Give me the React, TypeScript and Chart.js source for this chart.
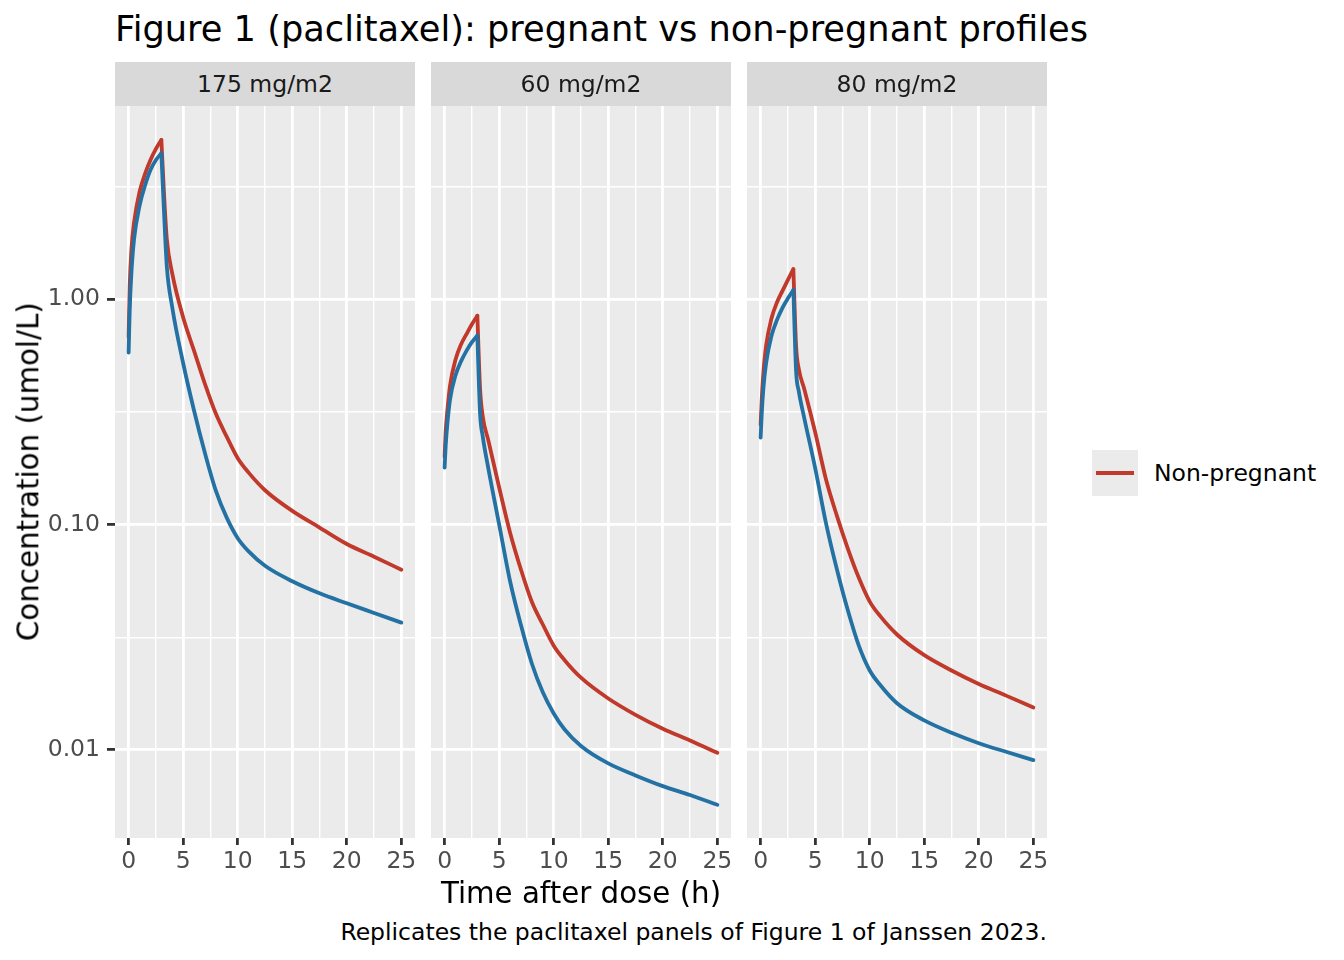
import React, { useEffect, useRef } from 'react';
import { Chart, registerables } from 'chart.js';

Chart.register(...registerables);
Chart.defaults.font.family = "'DejaVu Sans', sans-serif";

// sampling times (h) shared by every curve; infusion ends at 3 h
const times = [0, 0.1, 0.25, 0.5, 1, 1.5, 2, 2.5, 3, 3.25, 3.5, 4, 5, 6, 7, 8, 9, 10, 11, 12.5, 15, 17.5, 20, 22.5, 25];
const infusionEnd = 3;

const doseLabels = ['175 mg/m2', '60 mg/m2', '80 mg/m2'];

// concentrations (umol/L)
const pregnant175 = [0.58, 0.9, 1.3, 1.85, 2.6, 3.2, 3.75, 4.15, 4.45, 2.4, 1.4, 0.92, 0.52, 0.32, 0.207, 0.141, 0.107, 0.087, 0.076, 0.0656, 0.056, 0.0495, 0.0447, 0.0405, 0.0367];
const nonPregnant175 = [0.68, 1.15, 1.65, 2.2, 3.0, 3.6, 4.15, 4.65, 5.1, 2.9, 1.85, 1.3, 0.83, 0.59, 0.42, 0.31, 0.245, 0.197, 0.17, 0.142, 0.115, 0.097, 0.082, 0.072, 0.063];

const pregnant60 = [0.179, 0.225, 0.28, 0.36, 0.46, 0.53, 0.59, 0.645, 0.69, 0.31, 0.245, 0.178, 0.1, 0.056, 0.0357, 0.0241, 0.018, 0.0145, 0.0123, 0.0104, 0.0087, 0.0077, 0.0069, 0.0063, 0.0057];
const nonPregnant60 = [0.2, 0.26, 0.32, 0.415, 0.54, 0.63, 0.7, 0.775, 0.845, 0.4, 0.3, 0.237, 0.146, 0.092, 0.063, 0.0453, 0.036, 0.029, 0.025, 0.0209, 0.0169, 0.0143, 0.0124, 0.011, 0.0097];

const pregnant80 = [0.243, 0.31, 0.4, 0.52, 0.69, 0.81, 0.916, 1.01, 1.1, 0.48, 0.39, 0.297, 0.178, 0.101, 0.063, 0.0415, 0.029, 0.0225, 0.0193, 0.0161, 0.0135, 0.0119, 0.0107, 0.0098, 0.009];
const nonPregnant80 = [0.277, 0.36, 0.47, 0.622, 0.824, 0.97, 1.09, 1.22, 1.36, 0.62, 0.49, 0.4, 0.257, 0.158, 0.109, 0.078, 0.058, 0.0455, 0.039, 0.0325, 0.0263, 0.0225, 0.0196, 0.0174, 0.0154];

// axis breaks (ggplot style: major + minor)
const xBreaks = [0, 2.5, 5, 7.5, 10, 12.5, 15, 17.5, 20, 22.5, 25];
const yBreaks = [0.01, 0.0316, 0.1, 0.316, 1, 3.16];

const BLUE = '#2471A3';
const RED = '#C0392B';
const LINE_W = 3.8;
const PANEL_TOP = 106;
const PANEL_W = 300;
const PANEL_H = 732;
const PAD_TOP = 30;
const X_AXIS_H = 42;
const PAD_RIGHT = 16;
const Y_AXIS_W = 95;

const isMajorX = (v: number) => Math.abs(v % 5) < 1e-6;
const isMajorY = (v: number) => {
  const l = Math.log10(v);
  return Math.abs(l - Math.round(l)) < 0.01;
};

const panelBackground = {
  id: 'panelBackground',
  beforeDraw(chart: any) {
    const { ctx, chartArea: a } = chart;
    ctx.save();
    ctx.fillStyle = '#EBEBEB';
    ctx.fillRect(a.left, a.top, a.right - a.left, a.bottom - a.top);
    ctx.restore();
  },
};

type PanelProps = {
  left: number;
  showY: boolean;
  pregnant: number[];
  nonPregnant: number[];
};

const Panel: React.FC<PanelProps> = ({ left, showY, pregnant, nonPregnant }) => {
  const canvasRef = useRef<HTMLCanvasElement>(null);
  const yw = showY ? Y_AXIS_W : 0;
  const width = yw + PANEL_W + PAD_RIGHT;
  const height = PAD_TOP + PANEL_H + X_AXIS_H;

  useEffect(() => {
    if (!canvasRef.current) return;
    const pts = (vals: number[]) => times.map((t, i) => ({ x: t, y: vals[i] }));
    // split each curve at the end of infusion so the peak stays sharp
    const rising = (vals: number[]) => pts(vals).filter((p) => p.x <= infusionEnd);
    const falling = (vals: number[]) => pts(vals).filter((p) => p.x >= infusionEnd);

    const line = (label: string, data: any[], color: string) => ({
      label,
      data,
      borderColor: color,
      borderWidth: LINE_W,
      pointRadius: 0,
      cubicInterpolationMode: 'monotone' as const,
      fill: false,
      borderCapStyle: 'round' as const,
      borderJoinStyle: 'round' as const,
    });

    const chart = new Chart(canvasRef.current, {
      type: 'line',
      data: {
        datasets: [
          line('Pregnant', rising(pregnant), BLUE),
          line('Pregnant', falling(pregnant), BLUE),
          line('Non-pregnant', rising(nonPregnant), RED),
          line('Non-pregnant', falling(nonPregnant), RED),
        ],
      },
      options: {
        animation: false,
        responsive: false,
        events: [],
        layout: { padding: { top: PAD_TOP, right: PAD_RIGHT, left: 0, bottom: 0 } },
        plugins: {
          legend: { display: false },
          tooltip: { enabled: false },
        },
        scales: {
          x: {
            type: 'linear',
            min: -1.25,
            max: 26.25,
            afterBuildTicks: (s: any) => {
              s.ticks = xBreaks.map((v) => ({ value: v }));
            },
            afterFit: (s: any) => {
              s.height = X_AXIS_H;
            },
            border: { display: false },
            grid: {
              color: '#FFFFFF',
              lineWidth: (c: any) => (isMajorX(c.tick.value) ? 2.8 : 1.4),
              tickLength: 7,
              tickWidth: 2.8,
              tickColor: (c: any) => (isMajorX(c.tick.value) ? '#333333' : 'rgba(0,0,0,0)'),
            },
            ticks: {
              autoSkip: false,
              maxRotation: 0,
              padding: 3,
              color: '#4D4D4D',
              font: { size: 23.5 },
              callback: (v: any) => (isMajorX(Number(v)) ? String(v) : ''),
            },
          },
          y: {
            type: 'logarithmic',
            min: 0.00406,
            max: 7.21,
            afterBuildTicks: (s: any) => {
              s.ticks = yBreaks.map((v) => ({ value: v }));
            },
            afterFit: (s: any) => {
              s.width = yw;
            },
            border: { display: false },
            grid: {
              color: '#FFFFFF',
              lineWidth: (c: any) => (isMajorY(c.tick.value) ? 2.8 : 1.4),
              drawTicks: showY,
              tickLength: 8,
              tickWidth: 2.8,
              tickColor: (c: any) => (isMajorY(c.tick.value) ? '#333333' : 'rgba(0,0,0,0)'),
            },
            ticks: {
              display: showY,
              autoSkip: false,
              padding: 7,
              color: '#4D4D4D',
              font: { size: 23.5 },
              callback: (v: any) => (isMajorY(Number(v)) ? Number(v).toFixed(2) : ''),
            },
          },
        },
      },
      plugins: [panelBackground],
    });

    return () => {
      chart.destroy();
    };
  }, []);

  return (
    <canvas
      ref={canvasRef}
      width={width}
      height={height}
      style={{
        position: 'absolute',
        left: left - yw,
        top: PANEL_TOP - PAD_TOP,
        width,
        height,
      }}
    />
  );
};

const panelLefts = [115, 431, 747];
const panelData = [
  [pregnant175, nonPregnant175],
  [pregnant60, nonPregnant60],
  [pregnant80, nonPregnant80],
];

const App: React.FC = () => {
  const font = "'DejaVu Sans', sans-serif";
  return (
    <div
      style={{
        position: 'absolute',
        left: 0,
        top: 0,
        width: 1344,
        height: 960,
        background: '#FFFFFF',
        fontFamily: font,
        overflow: 'hidden',
      }}
    >
      {panelLefts.map((l, i) => (
        <Panel key={i} left={l} showY={i === 0} pregnant={panelData[i][0]} nonPregnant={panelData[i][1]} />
      ))}

      {panelLefts.map((l, i) => (
        <div
          key={'s' + i}
          style={{
            position: 'absolute',
            left: l,
            top: 62,
            width: PANEL_W,
            height: 44,
            background: '#D9D9D9',
            color: '#1A1A1A',
            fontSize: 23.5,
            lineHeight: '44px',
            textAlign: 'center',
          }}
        >
          {doseLabels[i]}
        </div>
      ))}

      <div
        style={{
          position: 'absolute',
          left: 115,
          top: 11,
          fontSize: 35.2,
          lineHeight: 1,
          color: '#000000',
          whiteSpace: 'nowrap',
        }}
      >
        Figure 1 (paclitaxel): pregnant vs non-pregnant profiles
      </div>

      <div
        style={{
          position: 'absolute',
          left: 115,
          width: 932,
          top: 879,
          fontSize: 29.3,
          lineHeight: 1,
          textAlign: 'center',
          color: '#000000',
          whiteSpace: 'nowrap',
        }}
      >
        Time after dose (h)
      </div>

      <div
        style={{
          position: 'absolute',
          left: 29 - 250,
          top: 472 - 14.65,
          width: 500,
          height: 29.3,
          fontSize: 29.3,
          lineHeight: 1,
          textAlign: 'center',
          color: '#000000',
          whiteSpace: 'nowrap',
          transform: 'rotate(-90deg)',
        }}
      >
        Concentration (umol/L)
      </div>

      <div
        style={{
          position: 'absolute',
          right: 1344 - 1047,
          top: 921,
          fontSize: 23.5,
          lineHeight: 1,
          color: '#000000',
          whiteSpace: 'nowrap',
        }}
      >
        Replicates the paclitaxel panels of Figure 1 of Janssen 2023.
      </div>

      <div style={{ position: 'absolute', left: 1092, top: 450, width: 46, height: 46, background: '#EBEBEB' }}>
        <div style={{ position: 'absolute', left: 4, top: 21, width: 38, height: LINE_W, background: RED }} />
      </div>
      <div
        style={{
          position: 'absolute',
          left: 1154,
          top: 462,
          fontSize: 23.5,
          lineHeight: 1,
          color: '#000000',
          whiteSpace: 'nowrap',
        }}
      >
        Non-pregnant
      </div>
    </div>
  );
};

export default App;
